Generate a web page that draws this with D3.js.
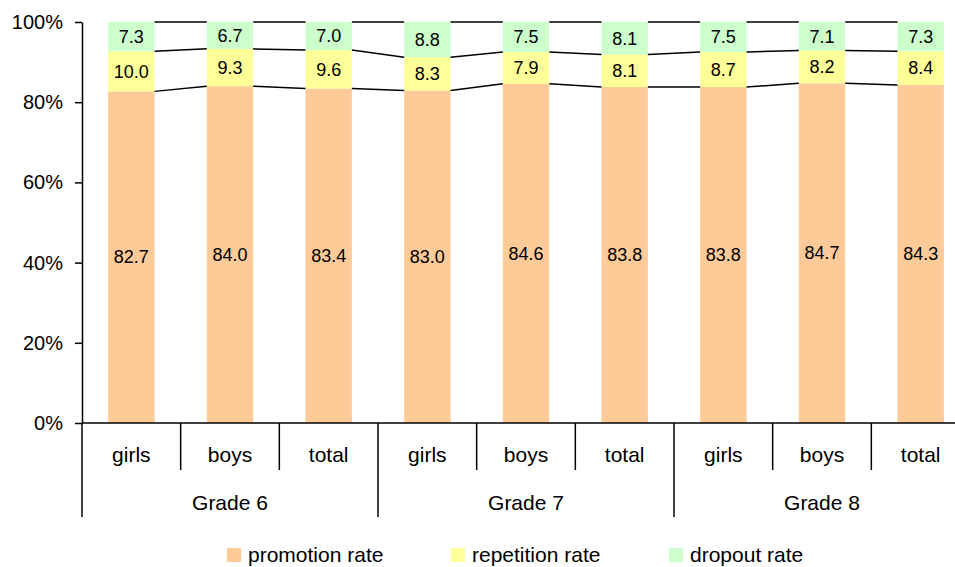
<!DOCTYPE html>
<html>
<head>
<meta charset="utf-8">
<script src="https://cdn.jsdelivr.net/npm/d3@7"></script>
<style>
  body { margin: 0; background: #fff; }
  svg { display: block; font-family: "Liberation Sans", Arial, sans-serif; }
</style>
</head>
<body>
<div class="chart"></div>
<script>
// data
const grades = ['Grade 6', 'Grade 7', 'Grade 8'];
const groups = ['girls', 'boys', 'total'];
const seriesNames = ['promotion rate', 'repetition rate', 'dropout rate'];
const promotion  = [82.7, 84.0, 83.4, 83.0, 84.6, 83.8, 83.8, 84.7, 84.3];
const repetition = [10.0, 9.3, 9.6, 8.3, 7.9, 8.1, 8.7, 8.2, 8.4];
const dropout    = [7.3, 6.7, 7.0, 8.8, 7.5, 8.1, 7.5, 7.1, 7.3];
const yTicks = [0, 0.2, 0.4, 0.6, 0.8, 1];
const colors = ['#fdca98', '#ffff99', '#ccffcc'];

// build rows
const rows = [];
grades.forEach((g, gi) => groups.forEach((s, si) => {
    const i = gi * groups.length + si;
    rows.push({ key: i, grade: g, group: s, promotion: promotion[i], repetition: repetition[i], dropout: dropout[i] });
}));
const keys = ['promotion', 'repetition', 'dropout'];
const stacked = d3.stack().keys(keys).offset(d3.stackOffsetExpand)(rows);

const svg_width = 955, svg_height = 567;
const plot = { left: 82, right: 970, top: 22, bottom: 423 };

const svg = d3.select('.chart').append('svg')
    .attr('width', svg_width).attr('height', svg_height);

const x = d3.scaleBand().domain(rows.map(d => d.key)).range([plot.left, plot.right]);
const xGrade = d3.scaleBand().domain(grades).range([plot.left, plot.right]);
const y = d3.scaleLinear().domain([0, 1]).range([plot.bottom, plot.top]);
const barW = x.bandwidth() * 0.47;
const barX = d => x(d.data.key) + (x.bandwidth() - barW) / 2;

// bars
const layers = svg.selectAll('.layer').data(stacked).enter().append('g')
    .attr('class', 'layer').attr('fill', (d, i) => colors[i]);
layers.selectAll('rect').data(d => d).enter().append('rect')
    .attr('x', barX)
    .attr('y', d => y(d[1]))
    .attr('width', barW)
    .attr('height', d => y(d[0]) - y(d[1]));

// series lines between bars
stacked.forEach(layer => {
    for (let i = 0; i < layer.length - 1; i++) {
        const a = layer[i], b = layer[i + 1];
        svg.append('line')
            .attr('x1', barX(a) + barW).attr('y1', y(a[1]))
            .attr('x2', barX(b)).attr('y2', y(b[1]))
            .attr('stroke', '#000').attr('stroke-width', 1.5);
    }
});

// value labels
layers.each(function (layer) {
    d3.select(this).selectAll('text').data(layer).enter().append('text')
        .attr('x', d => barX(d) + barW / 2)
        .attr('y', d => (y(d[0]) + y(d[1])) / 2)
        .attr('dy', '0.35em')
        .attr('text-anchor', 'middle')
        .attr('fill', '#000')
        .style('font-size', '18px')
        .text(d => d.data[layer.key].toFixed(1));
});

// y axis
const yAxis = d3.axisLeft(y).tickValues(yTicks).tickFormat(d3.format('.0%'))
    .tickSizeInner(7).tickSizeOuter(0).tickPadding(12);
const yAxisDraw = svg.append('g').attr('transform', `translate(${plot.left},0)`).call(yAxis);
yAxisDraw.select('.domain').attr('stroke-width', 1.5);
yAxisDraw.selectAll('.tick line').attr('stroke-width', 1.5);
yAxisDraw.selectAll('text').style('font-size', '20px').attr('fill', '#000');

// x axis line
svg.append('line').attr('x1', plot.left).attr('x2', plot.right)
    .attr('y1', plot.bottom).attr('y2', plot.bottom)
    .attr('stroke', '#000').attr('stroke-width', 1.5);

// category ticks and labels
const xAxis = svg.append('g');
rows.forEach((d, i) => {
    const x0 = x(d.key);
    const isGroupStart = i % groups.length === 0;
    xAxis.append('line').attr('x1', x0).attr('x2', x0)
        .attr('y1', plot.bottom).attr('y2', isGroupStart ? 517 : 470)
        .attr('stroke', '#000').attr('stroke-width', 1.5);
    xAxis.append('text').attr('x', x0 + x.bandwidth() / 2).attr('y', 455)
        .attr('dy', '0.35em').attr('text-anchor', 'middle')
        .style('font-size', '21px').text(d.group);
});
xAxis.append('line').attr('x1', plot.right).attr('x2', plot.right)
    .attr('y1', plot.bottom).attr('y2', 517).attr('stroke', '#000').attr('stroke-width', 1.5);
grades.forEach(g => {
    xAxis.append('text').attr('x', xGrade(g) + xGrade.bandwidth() / 2).attr('y', 503)
        .attr('dy', '0.35em').attr('text-anchor', 'middle')
        .style('font-size', '21px').text(g);
});

// legend
const legendX = [227, 451, 669];
const legend = svg.append('g').attr('transform', 'translate(0,555)');
seriesNames.forEach((name, i) => {
    legend.append('rect').attr('x', legendX[i]).attr('y', -7).attr('width', 14).attr('height', 14)
        .attr('fill', colors[i]);
    legend.append('text').attr('x', legendX[i] + 21).attr('y', 0).attr('dy', '0.35em')
        .style('font-size', '21px').text(name);
});
</script>
</body>
</html>
